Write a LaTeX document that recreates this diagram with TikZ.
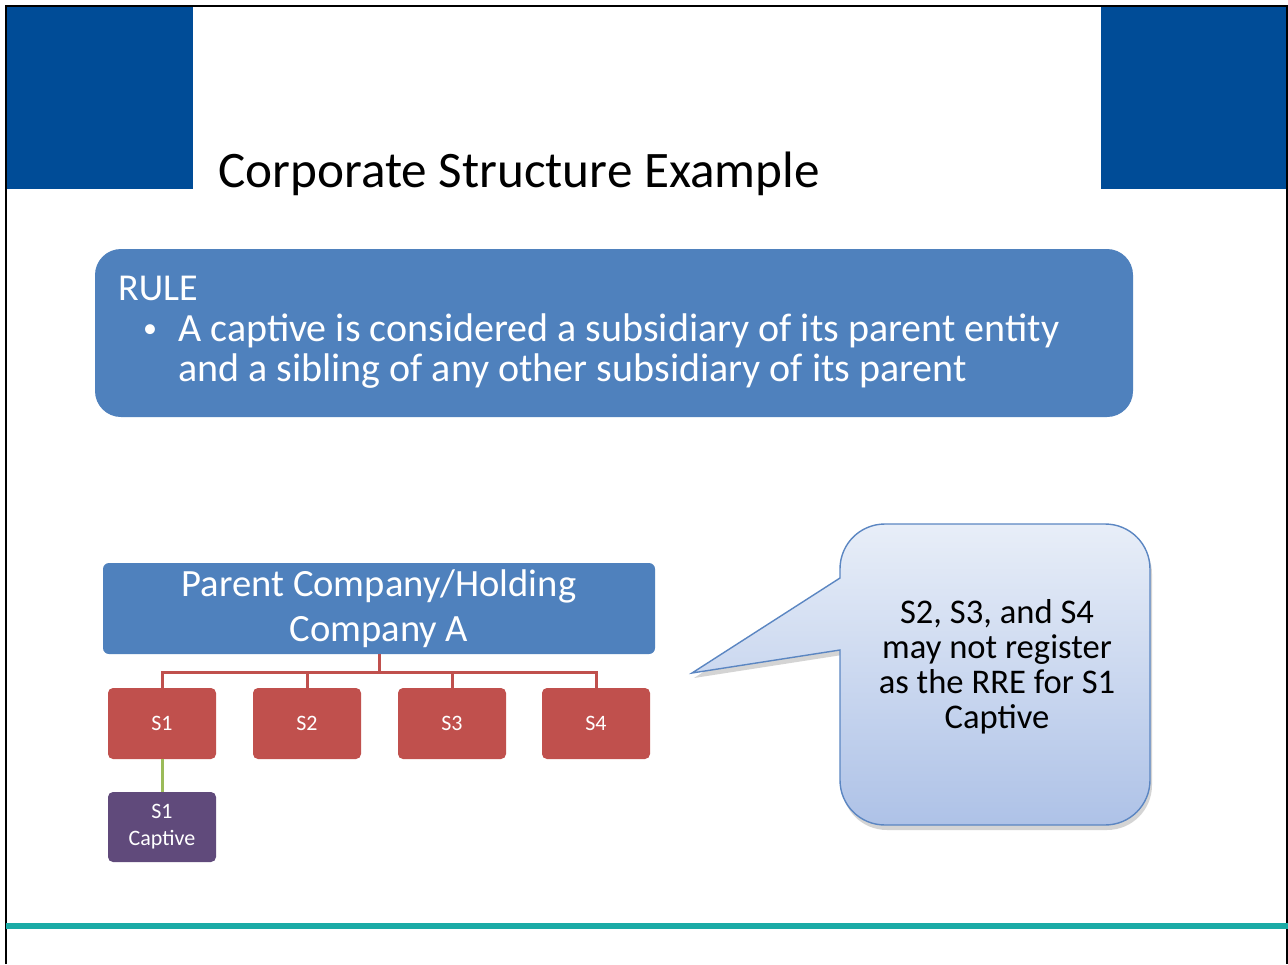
\documentclass[tikz,border=0pt]{standalone}
\usepackage{fontspec}
\setmainfont{Carlito}
\usetikzlibrary{shadows}
\definecolor{headblue}{HTML}{004C97}
\definecolor{ruleblue}{HTML}{4F81BD}
\definecolor{subred}{HTML}{C0504D}
\definecolor{linkgreen}{HTML}{9BBB59}
\definecolor{capviolet}{HTML}{604A7B}
\definecolor{footteal}{HTML}{1AABA6}
\definecolor{calltop}{HTML}{E8EEF8}
\definecolor{callbot}{HTML}{AEC2E7}
\definecolor{calledge}{HTML}{5B86C2}
\tikzset{
  subbox/.style={fill=subred, rounded corners=5pt, minimum width=108pt, minimum height=71pt, inner sep=0pt, text=white, font=\fontsize{22}{26}\selectfont},
  parentbox/.style={fill=ruleblue, rounded corners=6pt, minimum width=552pt, minimum height=91pt, inner sep=0pt, text=white, align=center, font=\fontsize{38.6}{45}\selectfont},
  capbox/.style={fill=capviolet, rounded corners=5pt, minimum width=108pt, minimum height=70pt, inner sep=0pt, text=white, align=center, font=\fontsize{22}{27}\selectfont},
  rulefont/.style={font=\fontsize{38}{40}\selectfont, text=white, inner sep=0pt, anchor=base west},
  rulebody/.style={font=\fontsize{40}{40}\selectfont, text=white, inner sep=0pt, anchor=base west},
  redlink/.style={draw=subred, line width=3pt},
  greenlink/.style={draw=linkgreen, line width=3pt},
}
\begin{document}
\begin{tikzpicture}[x=1pt,y=-1pt]
\useasboundingbox (0,0) rectangle (1288,964);
\fill[white] (0,0) rectangle (1288,964);
% header blocks
\fill[headblue] (6,6) rectangle (193,189);
\fill[headblue] (1101,6) rectangle (1287,189);
% frame
\draw[line width=1.5pt] (6,964) -- (6,6) -- (1287,6) -- (1287,964);
% title
\node[anchor=base west, inner sep=0pt, font=\fontsize{51.2}{56}\selectfont] (title) at (218,187) {Corporate Structure Example};
% rule box
\fill[ruleblue, rounded corners=26pt] (95,249) rectangle (1133,417);
\node[rulefont] (rulehead) at (118,300) {RULE};
\node[anchor=base west, inner sep=0pt, text=white, font=\fontsize{28}{30}\selectfont] (bullet) at (143,337) {•};
\node[rulebody] (ruleA) at (178,341) {A captive is considered a subsidiary of its parent entity};
\node[rulebody] (ruleB) at (178,381) {and a sibling of any other subsidiary of its parent};
% org chart
\node[parentbox] (parent) at (379,608.5) {Parent Company/Holding\\Company A};
\node[subbox] (s1) at (162,723.5) {S1};
\node[subbox] (s2) at (307,723.5) {S2};
\node[subbox] (s3) at (452,723.5) {S3};
\node[subbox] (s4) at (596,723.5) {S4};
\node[capbox] (cap) at (162,827) {S1\\Captive};
\coordinate (bus) at (379,672);
\draw[redlink] (parent.south) -- (bus);
\draw[redlink] (s1.north) |- (bus) -| (s4.north);
\draw[redlink] (s2.north) -- (s2.north |- bus);
\draw[redlink] (s3.north) -- (s3.north |- bus);
\draw[greenlink] (s1.south) -- (cap.north);
% callout
\coordinate (tip) at (692,673);
\path[draw=calledge, line width=1.4pt, top color=calltop, bottom color=callbot,
      drop shadow={shadow xshift=2pt, shadow yshift=-5pt, opacity=0.3, fill=black!55}]
  (tip) -- (840,578) -- (840,569) .. controls (840,544) and (860,524) .. (885,524)
  -- (1105,524) .. controls (1130,524) and (1150,544) .. (1150,569)
  -- (1150,780) .. controls (1150,805) and (1130,825) .. (1105,825)
  -- (885,825) .. controls (860,825) and (840,805) .. (840,780)
  -- (840,650) -- cycle;
\node[align=center, inner sep=0pt, font=\fontsize{34.6}{35}\selectfont] (note) at (997,667)
  {S2, S3, and S4\\may not register\\as the RRE for S1\\Captive};
% footer line
\draw[footteal, line width=6pt] (6,926) -- (1288,926);
\end{tikzpicture}
\end{document}
